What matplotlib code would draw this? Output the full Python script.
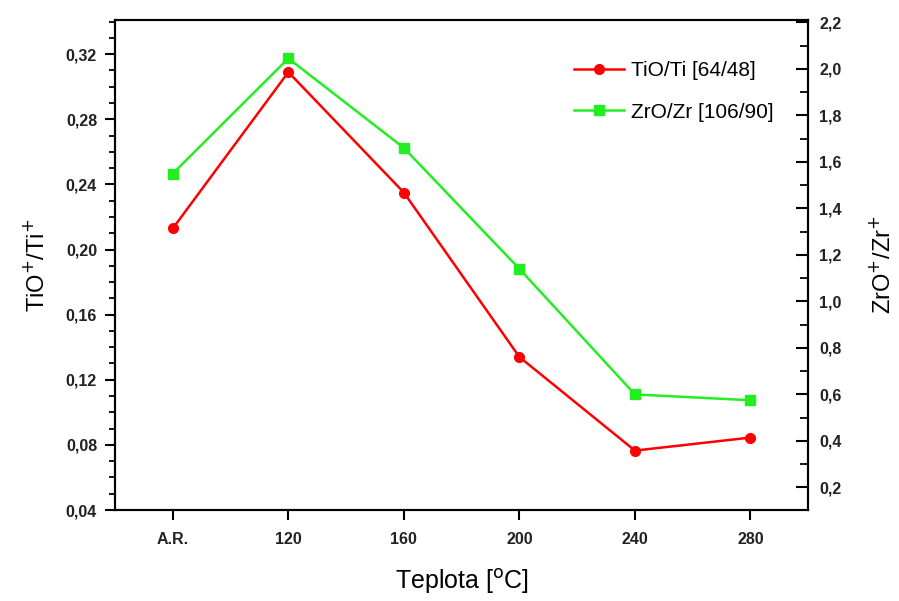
from matplotlib import pyplot as plt
from matplotlib import ticker

plt.rcParams["font.family"] = ["Liberation Sans", "DejaVu Sans"]

# data
categories = ["A.R.", "120", "160", "200", "240", "280"]
tio_ti = [0.213, 0.309, 0.235, 0.134, 0.0765, 0.0845]
zro_zr = [1.55, 2.045, 1.66, 1.14, 0.60, 0.575]

x = list(range(len(categories)))

fig = plt.figure(figsize=(8.99, 6.01), dpi=100)
ax = fig.add_axes([0.128, 0.1514, 0.771, 0.8153])
ax2 = ax.twinx()

ax.plot(x, tio_ti, color="#ff0000", lw=1.8, marker="o", ms=7, label="TiO/Ti [64/48]")
ax2.plot(x, zro_zr, color="#22ee22", lw=1.8, marker="s", ms=7, label="ZrO/Zr [106/90]")

ax.set_xlim(-0.5, 5.5)
ax.set_ylim(0.04, 0.341)
ax2.set_ylim(0.103, 2.21)

ax.set_xticks(x)
ax.set_xticklabels(categories)

comma = ticker.FuncFormatter(lambda v, p: f"{v:.2f}".replace(".", ","))
comma1 = ticker.FuncFormatter(lambda v, p: f"{v:.1f}".replace(".", ","))

ax.yaxis.set_major_locator(ticker.MultipleLocator(0.04))
ax.yaxis.set_minor_locator(ticker.MultipleLocator(0.01))
ax.yaxis.set_major_formatter(comma)
ax2.yaxis.set_major_locator(ticker.FixedLocator([0.2, 0.4, 0.6, 0.8, 1.0, 1.2, 1.4, 1.6, 1.8, 2.0, 2.2]))
ax2.yaxis.set_minor_locator(ticker.FixedLocator([0.3, 0.5, 0.7, 0.9, 1.1, 1.3, 1.5, 1.7, 1.9, 2.1]))
ax2.yaxis.set_major_formatter(comma1)

for a in (ax, ax2):
    for s in a.spines.values():
        s.set_linewidth(1.5)

ax.tick_params(axis="both", which="major", direction="out", length=7, width=1.5, labelsize=11.5)
ax.tick_params(axis="y", which="minor", direction="out", length=4, width=1.3)
ax2.tick_params(axis="y", which="major", direction="in", length=9, width=1.5, labelsize=11.5, pad=8)
ax2.tick_params(axis="y", which="minor", direction="in", length=6, width=1.3)
for lab in ax.get_xticklabels() + ax.get_yticklabels() + ax2.get_yticklabels():
    lab.set_fontweight("bold")
    lab.set_color("#222222")
ax.tick_params(axis="x", pad=9)
ax.tick_params(axis="y", pad=6)

ax.set_ylabel("TiO$^{+}$/Ti$^{+}$", fontsize=17, labelpad=12)
ax2.set_ylabel("ZrO$^{+}$/Zr$^{+}$", fontsize=17, rotation=90, labelpad=20)
ax.set_xlabel("Teplota [$^{\\mathrm{o}}$C]", fontsize=18, labelpad=14)

h1, l1 = ax.get_legend_handles_labels()
h2, l2 = ax2.get_legend_handles_labels()
fig.legend(h1 + h2, l1 + l2, loc="upper left", bbox_to_anchor=(0.618, 0.93),
           frameon=False, fontsize=15, handlelength=2.4, handletextpad=0.3, labelspacing=1.1)

plt.savefig("out.png", dpi=100)
